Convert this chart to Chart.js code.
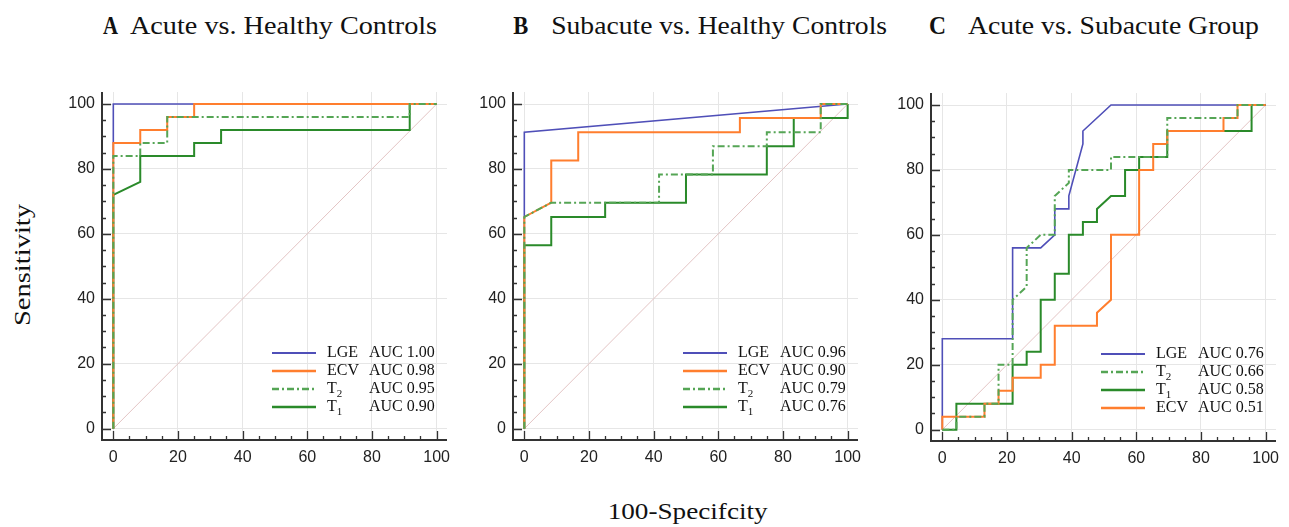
<!DOCTYPE html>
<html>
<head>
<meta charset="utf-8">
<script src="https://cdn.jsdelivr.net/npm/chart.js@4.4.1/dist/chart.umd.min.js"></script>
<style>
body { margin: 0; width: 1289px; height: 527px; background: #fff; position: relative; overflow: hidden; }
canvas { position: absolute; }
.t { position: absolute; white-space: nowrap; line-height: 1; font-family: "Liberation Serif", serif; color: #111; transform-origin: 50% 50%; }
</style>
</head>
<body>
<canvas id="chartA" width="400" height="398" style="left:52px;top:82px"></canvas>
<canvas id="chartB" width="400" height="398" style="left:463px;top:82px"></canvas>
<canvas id="chartC" width="400" height="398" style="left:881px;top:83px"></canvas>
<script>
// tick labels
const xTicks = [0, 20, 40, 60, 80, 100];
const yTicks = [0, 20, 40, 60, 80, 100];

const panelLetters = ['A', 'B', 'C'];
const panelTitles = ['Acute vs. Healthy Controls', 'Subacute vs. Healthy Controls', 'Acute vs. Subacute Group'];

// reference line
const diagonal = [[0, 0], [100, 100]];

// A: acute vs healthy controls  [100-specificity, sensitivity]
const aLge = [[0, 0], [0, 100], [100, 100]];
const aEcv = [[0, 0], [0, 88], [8.33, 88], [8.33, 92], [16.67, 92], [16.67, 96], [25, 96], [25, 100], [100, 100]];
const aT2 = [[0, 0], [0, 84], [8.33, 84], [8.33, 88], [16.67, 88], [16.67, 96], [91.67, 96], [91.67, 100], [100, 100]];
const aT1 = [[0, 0], [0, 72], [8.33, 76], [8.33, 84], [25, 84], [25, 88], [33.33, 88], [33.33, 92], [91.67, 92], [91.67, 100], [100, 100]];
const aLegend = ['LGE', 'ECV', 'T2', 'T1'];
const aAuc = ['1.00', '0.98', '0.95', '0.90'];

// B: subacute vs healthy controls
const bLge = [[0, 0], [0, 91.3], [100, 100]];
const bEcv = [[0, 0], [0, 65.2], [8.33, 69.6], [8.33, 82.6], [16.67, 82.6], [16.67, 91.3], [66.67, 91.3], [66.67, 95.7], [91.67, 95.7], [91.67, 100], [100, 100]];
const bT2 = [[0, 0], [0, 65.2], [8.33, 69.6], [41.67, 69.6], [41.67, 78.3], [58.33, 78.3], [58.33, 87], [75, 87], [75, 91.3], [91.67, 91.3], [91.67, 100], [100, 100]];
const bT1 = [[0, 0], [0, 56.5], [8.33, 56.5], [8.33, 65.2], [25, 65.2], [25, 69.6], [50, 69.6], [50, 78.3], [75, 78.3], [75, 87], [83.33, 87], [83.33, 95.7], [100, 95.7], [100, 100]];
const bLegend = ['LGE', 'ECV', 'T2', 'T1'];
const bAuc = ['0.96', '0.90', '0.79', '0.76'];

// C: acute vs subacute group
const cLge = [[0, 0], [0, 28], [21.74, 28], [21.74, 56], [30.43, 56], [34.78, 60], [34.78, 68], [39.13, 68], [39.13, 72], [43.48, 88], [43.48, 92], [52.17, 100], [100, 100]];
const cT2 = [[0, 0], [4.35, 0], [4.35, 4], [13.04, 4], [13.04, 8], [17.39, 8], [17.39, 20], [21.74, 20], [21.74, 40], [26.09, 44], [26.09, 56], [30.43, 60], [34.78, 60], [34.78, 72], [39.13, 76], [39.13, 80], [52.17, 80], [52.17, 84], [69.57, 84], [69.57, 96], [91.3, 96], [91.3, 100], [100, 100]];
const cT1 = [[0, 0], [4.35, 0], [4.35, 8], [21.74, 8], [21.74, 20], [26.09, 20], [26.09, 24], [30.43, 24], [30.43, 40], [34.78, 40], [34.78, 48], [39.13, 48], [39.13, 60], [43.48, 60], [43.48, 64], [47.83, 64], [47.83, 68], [52.17, 72], [56.52, 72], [56.52, 80], [60.87, 80], [60.87, 84], [69.57, 84], [69.57, 92], [95.65, 92], [95.65, 100], [100, 100]];
const cEcv = [[0, 0], [0, 4], [13.04, 4], [13.04, 8], [17.39, 8], [17.39, 12], [21.74, 12], [21.74, 16], [30.43, 16], [30.43, 20], [34.78, 20], [34.78, 32], [47.83, 32], [47.83, 36], [52.17, 40], [52.17, 60], [60.87, 60], [60.87, 80], [65.22, 80], [65.22, 88], [69.57, 88], [69.57, 92], [86.96, 92], [86.96, 96], [91.3, 96], [91.3, 100], [100, 100]];
const cLegend = ['LGE', 'T2', 'T1', 'ECV'];
const cAuc = ['0.76', '0.66', '0.58', '0.51'];

const styles = {
    LGE: { color: '#4f4fb8', width: 1.6, dash: [], order: 4 },
    T1: { color: '#2a8a2a', width: 2, dash: [], order: 3 },
    ECV: { color: '#ff7e2e', width: 2, dash: [], order: 2 },
    T2: { color: '#55a555', width: 2, dash: [7, 3, 2, 3], order: 1 }
};

const serif = '"Liberation Serif", serif';

function toXY(points) {
    return points.map(p => ({ x: p[0], y: p[1] }));
}

// axis lines + inward ticks, and the in-plot legend
const roc = {
    id: 'roc',
    afterDraw(chart, args, opts) {
        const ctx = chart.ctx;
        const area = chart.chartArea;
        const xs = chart.scales.x;
        const ys = chart.scales.y;
        ctx.save();
        ctx.strokeStyle = '#333';
        ctx.lineWidth = 2;
        ctx.beginPath();
        ctx.moveTo(area.left, area.top);
        ctx.lineTo(area.left, area.bottom);
        ctx.lineTo(area.right, area.bottom);
        ctx.stroke();
        ctx.lineWidth = 1.3;
        ctx.beginPath();
        for (let v = 0; v <= 100; v += 5) {
            const len = v % 20 === 0 ? 9 : 4;
            const px = Math.round(xs.getPixelForValue(v)) + 0.5;
            ctx.moveTo(px, area.bottom);
            ctx.lineTo(px, area.bottom - len);
            const py = Math.round(ys.getPixelForValue(v)) + 0.5;
            ctx.moveTo(area.left, py);
            ctx.lineTo(area.left + len, py);
        }
        ctx.stroke();

        // legend
        const rows = opts.labels;
        ctx.textBaseline = 'middle';
        ctx.fillStyle = '#111';
        rows.forEach((name, i) => {
            const st = styles[name];
            const y = area.bottom - 87 + i * 18;
            ctx.strokeStyle = st.color;
            ctx.lineWidth = st.width + 0.4;
            ctx.setLineDash(st.dash);
            ctx.beginPath();
            ctx.moveTo(area.right - 175, y);
            ctx.lineTo(area.right - 131, y);
            ctx.stroke();
            ctx.setLineDash([]);
            const lx = area.right - 120;
            ctx.font = '16px ' + serif;
            if (name === 'T1' || name === 'T2') {
                ctx.fillText('T', lx, y);
                const tw = ctx.measureText('T').width;
                ctx.font = '11px ' + serif;
                ctx.fillText(name.slice(1), lx + tw, y + 5);
                ctx.font = '16px ' + serif;
            } else {
                ctx.fillText(name, lx, y);
            }
            ctx.fillText('AUC ' + opts.auc[i], area.right - 78, y);
        });
        ctx.restore();
    }
};

function axis(ticks, isX) {
    return {
        type: 'linear',
        min: -3.5,
        max: isX ? 103.2 : 103.7,
        afterBuildTicks: s => { s.ticks = ticks.map(v => ({ value: v })); },
        afterFit: s => {
            if (isX) s.height = 40; else s.width = 50;
            s.paddingLeft = s.paddingRight = s.paddingTop = s.paddingBottom = 0;
        },
        grid: { color: '#e6e6e6', lineWidth: 1, drawTicks: false },
        border: { display: false },
        ticks: {
            padding: isX ? 8 : 7,
            color: '#222',
            font: { family: '"Liberation Sans", Arial, sans-serif', size: 16 }
        }
    };
}

function makeChart(id, series, legend, auc) {
    const datasets = [{
        data: toXY(diagonal), borderColor: '#e3c4c4', borderWidth: 1, order: 5
    }];
    Object.keys(series).forEach(name => {
        const st = styles[name];
        datasets.push({
            label: name,
            data: toXY(series[name]),
            borderColor: st.color,
            borderWidth: st.width,
            borderDash: st.dash,
            order: st.order
        });
    });
    datasets.forEach(d => { d.pointRadius = 0; d.tension = 0; d.fill = false; });
    new Chart(document.getElementById(id).getContext('2d'), {
        type: 'line',
        data: { datasets: datasets },
        options: {
            responsive: false,
            animation: false,
            layout: { padding: { left: 0, right: 5, top: 10, bottom: 0 } },
            scales: { x: axis(xTicks, true), y: axis(yTicks, false) },
            plugins: {
                legend: { display: false },
                tooltip: { enabled: false },
                roc: { labels: legend, auc: auc }
            }
        },
        plugins: [roc]
    });
}

makeChart('chartA', { LGE: aLge, ECV: aEcv, T2: aT2, T1: aT1 }, aLegend, aAuc);
makeChart('chartB', { LGE: bLge, ECV: bEcv, T2: bT2, T1: bT1 }, bLegend, bAuc);
makeChart('chartC', { LGE: cLge, ECV: cEcv, T2: cT2, T1: cT1 }, cLegend, cAuc);

// html text, squeezed to the reference widths
function placeText(text, cx, top, size, width, bold, rotate) {
    const el = document.createElement('div');
    el.className = 't';
    el.textContent = text;
    el.style.fontSize = size + 'px';
    if (bold) el.style.fontWeight = 'bold';
    document.body.appendChild(el);
    const r = el.getBoundingClientRect();
    const k = width / r.width;
    el.style.left = (cx - r.width / 2) + 'px';
    el.style.top = (rotate ? top - r.height / 2 : top) + 'px';
    el.style.transform = (rotate ? 'rotate(-90deg) ' : '') + 'scaleX(' + k.toFixed(3) + ')';
}

const letterX = [[103, 118], [513, 528], [929, 946]];
const titleX = [[130, 437], [551, 887], [968, 1259]];
panelLetters.forEach((l, i) => {
    placeText(l, (letterX[i][0] + letterX[i][1]) / 2, 13, 26, letterX[i][1] - letterX[i][0], true, false);
    placeText(panelTitles[i], (titleX[i][0] + titleX[i][1]) / 2, 13, 26, titleX[i][1] - titleX[i][0], false, false);
});
placeText('Sensitivity', 22, 265, 24, 122, false, true);
placeText('100-Specifcity', 688, 499, 24, 160, false, false);
</script>
</body>
</html>
